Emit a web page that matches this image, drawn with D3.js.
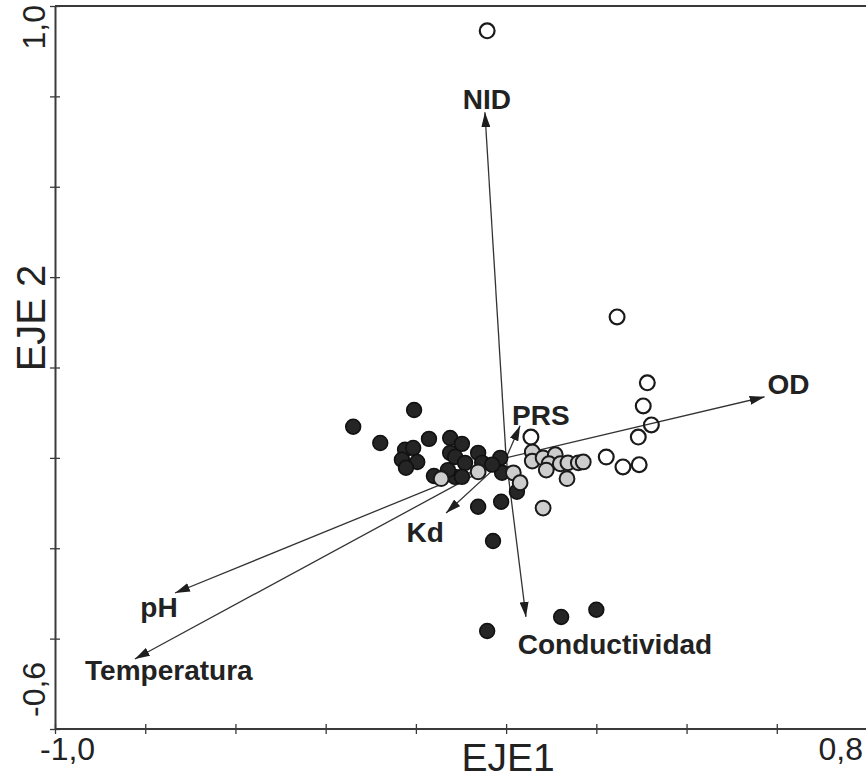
<!DOCTYPE html>
<html>
<head>
<meta charset="utf-8">
<script src="https://cdn.jsdelivr.net/npm/d3@7"></script>
<style>
  html, body { margin: 0; padding: 0; background: #fff; }
  svg { display: block; }
  text { font-family: "Liberation Sans", Arial, Helvetica, sans-serif; fill: #222; }
</style>
</head>
<body>
<svg id="chart" width="866" height="780"></svg>
<script>
// Site scores on the first two ordination axes, grouped by type
const blackSites = [
  [-0.204, 0.106], [-0.339, 0.069], [-0.279, 0.033], [-0.171, 0.042],
  [-0.224, 0.018], [-0.206, 0.022], [-0.231, -0.004], [-0.197, -0.009],
  [-0.222, -0.022], [-0.160, -0.040], [-0.124, 0.044], [-0.098, 0.031],
  [-0.124, 0.011], [-0.113, 0.002], [-0.091, -0.011], [-0.062, 0.011],
  [-0.053, -0.011], [-0.013, 0.000], [-0.009, -0.033], [-0.113, -0.042],
  [-0.098, -0.042], [-0.129, -0.027], [-0.031, -0.015], [0.024, -0.075],
  [-0.062, -0.108], [-0.011, -0.097], [-0.029, -0.184], [-0.042, -0.383],
  [0.122, -0.352], [0.200, -0.336]
];
const graySites = [
  [-0.144, -0.046], [-0.062, -0.031], [0.016, -0.033], [0.031, -0.055],
  [0.058, 0.013], [0.058, -0.007], [0.082, 0.000], [0.109, 0.007],
  [0.095, -0.013], [0.089, -0.027], [0.120, -0.013], [0.137, -0.011],
  [0.160, -0.011], [0.171, -0.009], [0.135, -0.046], [0.082, -0.111]
];
const whiteSites = [
  [-0.042, 0.945], [0.246, 0.312], [0.313, 0.166], [0.304, 0.115],
  [0.322, 0.073], [0.293, 0.046], [0.222, 0.002], [0.259, -0.020],
  [0.295, -0.015], [0.055, 0.046]
];

// Environmental variable vectors (arrow tips)
const variables = ["NID", "OD", "PRS", "Kd", "pH", "Temperatura", "Conductividad"];
const vecX = [-0.047, 0.573, 0.031, -0.133, -0.734, -0.823, 0.044];
const vecY = [0.765, 0.135, 0.071, -0.122, -0.299, -0.445, -0.352];
// label offsets (px) and anchors for each vector name
const labelDX = [2, 3, -8, -21, -16, 34, 89];
const labelDY = [-3, -3, -1, 29, 24, 21, 37];
const labelAnchor = ["middle", "start", "start", "middle", "middle", "middle", "middle"];

// Axis ticks and labels
const xTicks = [-1.0, -0.8, -0.6, -0.4, -0.2, 0.0, 0.2, 0.4, 0.6, 0.8];
const yTicks = [-0.6, -0.4, -0.2, 0.0, 0.2, 0.4, 0.6, 0.8, 1.0];
const xTickLabels = ["-1,0", "0,8"];
const yTickLabels = ["-0,6", "1,0"];
const xTitle = "EJE1";
const yTitle = "EJE 2";

const svg = d3.select("#chart");
const x = d3.scaleLinear().domain([-1.0, 0.8]).range([55, 867]);
const y = d3.scaleLinear().domain([-0.6, 1.0]).range([729, 6]);

const axisColor = "#3a3a3a";

// Top frame line
svg.append("line")
  .attr("x1", x(-1.0)).attr("x2", 866)
  .attr("y1", y(1.0)).attr("y2", y(1.0))
  .attr("stroke", axisColor).attr("stroke-width", 2);

// Bottom axis
const gx = svg.append("g").attr("transform", `translate(0,${y(-0.6)})`)
  .call(d3.axisBottom(x).tickValues(xTicks).tickFormat("").tickSizeOuter(0).tickSizeInner(5));
gx.select(".domain").attr("stroke", axisColor).attr("stroke-width", 2)
  .attr("d", `M${x(-1.0)},0H866`);
gx.selectAll(".tick line").attr("y1", -5).attr("y2", 5)
  .attr("stroke", axisColor).attr("stroke-width", 1.3);

// Left axis
const gy = svg.append("g").attr("transform", `translate(${x(-1.0)},0)`)
  .call(d3.axisLeft(y).tickValues(yTicks).tickFormat("").tickSizeOuter(0).tickSizeInner(5));
gy.select(".domain").attr("stroke", axisColor).attr("stroke-width", 2);
gy.selectAll(".tick line").attr("x1", -5).attr("x2", 5)
  .attr("stroke", axisColor).attr("stroke-width", 1.3);

// Tick labels at the axis ends
const tickFont = 32;
svg.append("text").attr("x", x(-1.0) - 15).attr("y", 760)
  .attr("font-size", tickFont).attr("text-anchor", "start").text(xTickLabels[0]);
svg.append("text").attr("x", 863).attr("y", 760)
  .attr("font-size", tickFont).attr("text-anchor", "end").text(xTickLabels[1]);
svg.append("text").attr("transform", `translate(45,717) rotate(-90)`)
  .attr("font-size", tickFont).attr("text-anchor", "start").text(yTickLabels[0]);
svg.append("text").attr("transform", `translate(45,${y(1.0) - 1}) rotate(-90)`)
  .attr("font-size", tickFont).attr("text-anchor", "end").text(yTickLabels[1]);

// Axis titles
const titleFont = 39;
svg.append("text").attr("x", 508).attr("y", 771)
  .attr("font-size", titleFont).attr("text-anchor", "middle").text(xTitle);
svg.append("text").attr("transform", `translate(45,318) rotate(-90)`)
  .attr("font-size", 40).attr("text-anchor", "middle").text(yTitle);

// Arrowhead marker
svg.append("defs").append("marker")
  .attr("id", "head").attr("viewBox", "0 0 15 9")
  .attr("refX", 15).attr("refY", 4.5)
  .attr("markerWidth", 15).attr("markerHeight", 9)
  .attr("markerUnits", "userSpaceOnUse").attr("orient", "auto")
  .append("path").attr("d", "M0,0L15,4.5L0,9Z").attr("fill", "#1e1e1e");

// Vectors
const vec = variables.map((name, i) => ({ name, vx: vecX[i], vy: vecY[i], i }));
svg.append("g").selectAll("line").data(vec).join("line")
  .attr("x1", x(0)).attr("y1", y(0))
  .attr("x2", d => x(d.vx)).attr("y2", d => y(d.vy))
  .attr("stroke", "#333").attr("stroke-width", 1.3)
  .attr("marker-end", "url(#head)");

// Sites
const r = 7.4;
svg.append("g").selectAll("circle").data(blackSites).join("circle")
  .attr("cx", d => x(d[0])).attr("cy", d => y(d[1])).attr("r", r)
  .attr("fill", "#252525").attr("stroke", "#111").attr("stroke-width", 1.6);
svg.append("g").selectAll("circle").data(graySites).join("circle")
  .attr("cx", d => x(d[0])).attr("cy", d => y(d[1])).attr("r", r)
  .attr("fill", "#cdcdcd").attr("stroke", "#1a1a1a").attr("stroke-width", 2);
svg.append("g").selectAll("circle").data(whiteSites).join("circle")
  .attr("cx", d => x(d[0])).attr("cy", d => y(d[1])).attr("r", r)
  .attr("fill", "none").attr("stroke", "#1a1a1a").attr("stroke-width", 2.2);

// Vector labels
svg.append("g").selectAll("text").data(vec).join("text")
  .attr("x", d => x(d.vx) + labelDX[d.i])
  .attr("y", d => y(d.vy) + labelDY[d.i])
  .attr("text-anchor", d => labelAnchor[d.i])
  .attr("font-size", 28).attr("font-weight", "bold")
  .text(d => d.name);
</script>
</body>
</html>
